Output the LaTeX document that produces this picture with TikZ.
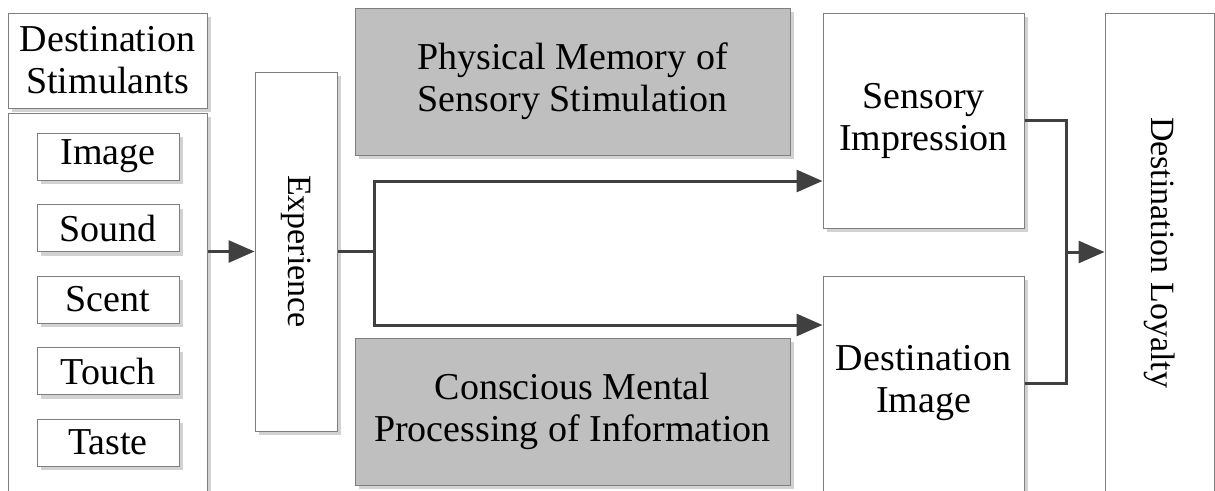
\documentclass[tikz,border=0pt]{standalone}
\usepackage{fontspec}
\setmainfont{Liberation Serif}
\usetikzlibrary{arrows.meta,shadows}
\definecolor{boxline}{HTML}{7F7F7F}
\definecolor{conn}{HTML}{404040}
\definecolor{panel}{HTML}{BFBFBF}
\definecolor{shade}{HTML}{D2D2D2}
\begin{document}
\begin{tikzpicture}[x=1pt,y=-1pt,
  font=\fontsize{38}{42}\selectfont,
  box/.style={draw=boxline, line width=1pt, fill=white, inner sep=0pt, align=center,
    drop shadow={shadow xshift=4pt, shadow yshift=-4pt, fill=shade, opacity=1}},
  graybox/.style={box, fill=panel},
  txt/.style={inner sep=0pt, align=center},
  vtxt/.style={txt, rotate=-90, font=\fontsize{34}{40}\selectfont},
  link/.style={draw=conn, line width=3pt},
  arr/.style={link, -{Triangle[length=26pt,width=22pt]}}]
\useasboundingbox (0,0) rectangle (1215,490);
\clip (0,0) rectangle (1215,490);
% left column
\node[box, minimum width=199pt, minimum height=95pt] (hdr) at (107.5,60.5) {Destination\\Stimulants};
\node[box, minimum width=199pt, minimum height=417pt] (stim) at (107.5,321.5) {};
\node[box, minimum width=142pt, minimum height=47pt] (img) at (108,156.5) {Image};
\node[box, minimum width=142pt, minimum height=47pt] (snd) at (108,228) {Sound};
\node[box, minimum width=142pt, minimum height=47pt] (sct) at (108,299.5) {Scent};
\node[box, minimum width=142pt, minimum height=47pt] (tch) at (108,371) {Touch};
\node[box, minimum width=142pt, minimum height=47pt] (tst) at (108,442.5) {Taste};
% experience
\node[box, minimum width=82pt, minimum height=359pt] (exp) at (296,251.5) {};
\node[vtxt] (exptext) at (exp.center) {Experience};
% gray panels
\node[graybox, minimum width=435pt, minimum height=147pt] (pm) at (572.5,81.5) {Physical Memory of\\Sensory Stimulation};
\node[graybox, minimum width=435pt, minimum height=147pt] (cm) at (572.5,411.5) {Conscious Mental\\Processing of Information};
% right side
\node[box, minimum width=201pt, minimum height=215pt] (si) at (923.5,120.5) {Sensory\\Impression};
\node[box, minimum width=201pt, minimum height=254pt] (di) at (923.5,403) {};
\node[txt] (ditext) at (923.5,383) {Destination\\Image};
\node[box, minimum width=109pt, minimum height=517pt] (dl) at (1159.5,271.5) {};
\node[vtxt] (dltext) at (1159.5,252.5) {Destination Loyalty};
% connectors
\draw[arr] (stim.east |- exp.west) -- (exp.west);
\coordinate (split) at (374,251.5);
\coordinate (up) at (374,181);
\coordinate (dn) at (374,325);
\draw[link] (exp.east) -- (split);
\draw[arr] (split) -- (up) -- (up -| si.west);
\draw[arr] (split) -- (dn) -- (dn -| di.west);
\coordinate (join) at (1066,252);
\draw[link] (si.east) -| (join);
\draw[link] (di.east |- ditext) -| (join);
\draw[arr] (join) -- (join -| dl.west);
\end{tikzpicture}
\end{document}
